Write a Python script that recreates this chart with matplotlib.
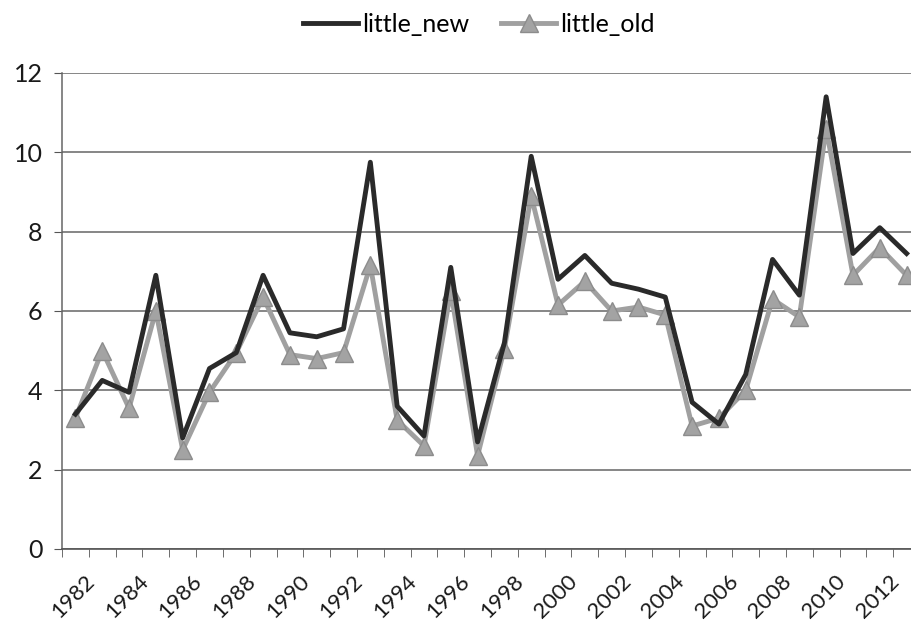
import numpy as np
import matplotlib.pyplot as plt
import matplotlib.transforms as mtransforms

years = np.arange(1982, 2014)
little_new = [3.4, 4.25, 3.95, 6.9, 2.8, 4.55, 4.95, 6.9, 5.45, 5.35,
              5.55, 9.75, 3.6, 2.85, 7.1, 2.7, 5.2, 9.9, 6.8, 7.4,
              6.7, 6.55, 6.35, 3.7, 3.15, 4.4, 7.3, 6.4, 11.4, 7.45,
              8.1, 7.45]
little_old = [3.3, 5.0, 3.55, 6.0, 2.5, 3.95, 4.95, 6.35, 4.9, 4.8,
              4.95, 7.15, 3.25, 2.6, 6.5, 2.35, 5.05, 8.9, 6.15, 6.75,
              6.0, 6.1, 5.9, 3.1, 3.3, 4.0, 6.3, 5.85, 10.6, 6.9,
              7.6, 6.9]
ylabels = [0, 2, 4, 6, 8, 10, 12]

plt.rcParams['font.family'] = ['Lato', 'DejaVu Sans']

fig = plt.figure(figsize=(9.12, 6.26), dpi=100)
ax = fig.add_axes([62/912, 77/626, 858/912, 476/626])

ax.plot(years, little_new, color='#2a2a2a', lw=3.5, label='little_new', zorder=3)
ax.plot(years, little_old, color='#a0a0a0', lw=3.5, marker='^', ms=13,
        mfc='#a3a3a3', mec='#8c8c8c', label='little_old', zorder=2)

ax.set_xlim(1981.5, 2013.5)
ax.set_ylim(0, 12)
ax.set_yticks(ylabels)
ax.set_yticklabels([str(v) for v in ylabels], fontsize=18, color='#1a1a1a')
ax.set_xticks(years[::2])
ax.set_xticklabels([str(y) for y in years[::2]], rotation=45, ha='right',
                   rotation_mode='anchor', fontsize=16, color='#1a1a1a')
ax.set_xticks(np.arange(1981.5, 2014.5, 1), minor=True)
ax.tick_params(axis='x', which='major', length=0, pad=16)
ax.tick_params(axis='x', which='minor', length=6, color='#555555', direction='out')
ax.tick_params(axis='y', length=6, color='#555555', pad=8)
# nudge the rotated year labels a bit to the right
shift = mtransforms.ScaledTranslation(9/100, 0, fig.dpi_scale_trans)
for lbl in ax.get_xticklabels():
    lbl.set_transform(lbl.get_transform() + shift)

ax.grid(axis='y', color='#666666', lw=1.1)
for s in ['top', 'right']:
    ax.spines[s].set_visible(False)
ax.spines['left'].set_color('#666666')
ax.spines['bottom'].set_color('#555555')
ax.spines['left'].set_linewidth(1.1)
ax.spines['bottom'].set_linewidth(1.2)

fig.legend(loc='upper center', bbox_to_anchor=(0.525, 1.015), ncol=2, frameon=False,
           fontsize=18, handlelength=2.2, handletextpad=0.15, columnspacing=1.3,
           markerscale=1.0)

fig.savefig('out.png', dpi=100)
